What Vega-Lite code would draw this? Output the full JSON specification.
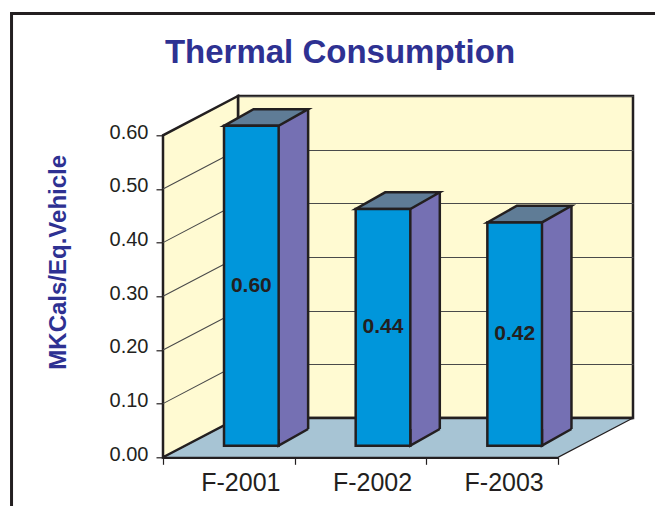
{
  "$schema": "https://vega.github.io/schema/vega-lite/v6.json",
  "width": 395,
  "height": 322,
  "autosize": {"type": "none"},
  "padding": {"left": 238, "top": 96, "right": 22, "bottom": 88},
  "background": "white",
  "title": {
    "text": "Thermal Consumption",
    "font": "Liberation Sans",
    "fontSize": 33,
    "fontWeight": "bold",
    "color": "#2E3192",
    "anchor": "middle",
    "frame": "group",
    "baseline": "alphabetic",
    "offset": -88,
    "dx": -95.5
  },
  "config": {
    "font": "Liberation Sans",
    "view": {"fill": "#FFFAD2", "stroke": "#231F20", "strokeWidth": 2.5}
  },
  "data": {
    "values": [
      {"category": "F-2001", "value": 0.596},
      {"category": "F-2002", "value": 0.441},
      {"category": "F-2003", "value": 0.416}
    ]
  },
  "resolve": {"scale": {"y": "independent"}, "axis": {"y": "independent"}},
  "layer": [
    {
      "data": {"values": [{}]},
      "mark": {"type": "point", "shape": "M-292.3,120 L-292.3,-404.5 L380,-404.5", "size": 4, "filled": false, "stroke": "#231F20", "strokeWidth": 3, "opacity": 1},
      "encoding": {
        "x": {"datum": "F-2001", "type": "nominal", "scale": {"type": "band", "paddingInner": 0, "paddingOuter": 0, "domain": ["F-2001", "F-2002", "F-2003"]},
          "axis": {"orient": "bottom", "offset": 39.3, "position": -75, "title": null, "domain": true, "domainColor": "#231F20", "domainWidth": 2.5, "ticks": true, "tickBand": "extent", "tickSize": 7, "tickColor": "#231F20", "tickWidth": 1.2, "labelAngle": 0, "labelFont": "Liberation Sans", "labelFontSize": 25, "labelColor": "#231F20", "labelPadding": 6, "labelOffset": 11.5, "grid": false}},
        "y": {"datum": 0, "type": "quantitative", "axis": null, "scale": {"domain": [0, 0.6], "nice": false}}
      }
    },
    {
      "data": {"values": [{}]},
      "mark": {"type": "point", "shape": "M-65.83,0 L329.17,0 L254.17,39.3 L-140.83,39.3 Z", "size": 4, "filled": true, "fill": "#A7C4D4", "stroke": "#231F20", "strokeWidth": 1.2, "opacity": 1},
      "encoding": {
        "x": {"datum": "F-2001", "type": "nominal", "title": null},
        "y": {"datum": 0, "type": "quantitative", "axis": null, "scale": {"domain": [0, 0.6], "nice": false}}
      }
    },
    {
      "data": {"values": [{}]},
      "mark": {"type": "point", "shape": "M-65.83,0 L329.17,0", "size": 4, "filled": false, "stroke": "#231F20", "strokeWidth": 2.5, "opacity": 1},
      "encoding": {
        "x": {"datum": "F-2001", "type": "nominal", "title": null},
        "y": {"datum": 0, "type": "quantitative", "axis": null, "scale": {"domain": [0, 0.6], "nice": false}}
      }
    },
    {
      "data": {"values": [{}]},
      "mark": {"type": "point", "shape": "M-140.83,39.3 L-140.83,-282.7 L-65.83,-322 L-65.83,0 Z", "size": 4, "filled": true, "fill": "#FFFAD2", "stroke": "#231F20", "strokeWidth": 2.5, "opacity": 1},
      "encoding": {
        "x": {"datum": "F-2001", "type": "nominal", "title": null},
        "y": {"datum": 0, "type": "quantitative", "axis": null, "scale": {"domain": [0, 0.6], "nice": false}}
      }
    },
    {
      "data": {"values": [{}]},
      "mark": {"type": "point", "shape": "M-140.83,-14.37 L-65.83,-53.67 M-140.83,-68.03 L-65.83,-107.33 M-140.83,-121.7 L-65.83,-161 M-140.83,-175.37 L-65.83,-214.67 M-140.83,-229.03 L-65.83,-268.33", "size": 4, "filled": false, "stroke": "#4a4a4a", "strokeWidth": 1.1, "opacity": 1},
      "encoding": {
        "x": {"datum": "F-2001", "type": "nominal", "title": null},
        "y": {"datum": 0, "type": "quantitative", "axis": null, "scale": {"domain": [0, 0.6], "nice": false}}
      }
    },
    {
      "mark": {"type": "bar", "fill": "#7570B3", "strokeWidth": 0, "width": {"band": 0.2605}, "xOffset": -12.85, "x2Offset": -12.85, "yOffset": 11, "y2Offset": 11},
      "encoding": {
        "x": {"field": "category", "type": "nominal", "title": null},
        "y": {
          "field": "value", "type": "quantitative",
          "scale": {"domain": [0, 0.6], "nice": false},
          "axis": {"orient": "right", "values": [0, 0.1, 0.2, 0.3, 0.4, 0.5, 0.6], "labels": false, "ticks": false, "domain": false, "grid": true, "gridColor": "#4a4a4a", "gridWidth": 1.1, "title": null}
        },
        "y2": {"datum": 0}
      }
    },
    {
      "mark": {"type": "rule", "stroke": "#231F20", "strokeWidth": 2.5, "xOffset": 4.3, "yOffset": 11, "y2Offset": 11},
      "encoding": {
        "x": {"field": "category", "type": "nominal", "title": null},
        "y": {"field": "value", "type": "quantitative", "axis": null, "scale": {"domain": [0, 0.6], "nice": false}},
        "y2": {"datum": 0}
      }
    },
    {
      "mark": {"type": "point", "shape": "M-25.2,11 L-25.2,27.7 L4.3,11", "size": 4, "filled": true, "fill": "#7570B3", "stroke": "#231F20", "strokeWidth": 2.5, "opacity": 1},
      "encoding": {
        "x": {"field": "category", "type": "nominal", "title": null},
        "y": {"datum": 0, "type": "quantitative", "axis": null, "scale": {"domain": [0, 0.6], "nice": false}}
      }
    },
    {
      "mark": {"type": "point", "shape": "M-79.8,27.7 L-25.2,27.7 L4.3,11 L-50.3,11 Z", "size": 4, "filled": true, "fill": "#5F7C96", "stroke": "#231F20", "strokeWidth": 2.5, "opacity": 1},
      "encoding": {
        "x": {"field": "category", "type": "nominal", "title": null},
        "y": {"field": "value", "type": "quantitative", "axis": null, "scale": {"domain": [0, 0.6], "nice": false}}
      }
    },
    {
      "mark": {"type": "bar", "fill": "#0096DB", "stroke": "#231F20", "strokeWidth": 2.5, "width": {"band": 0.415}, "xOffset": -52.5, "x2Offset": -52.5, "yOffset": 27.7, "y2Offset": 27.7},
      "encoding": {
        "x": {"field": "category", "type": "nominal", "title": null},
        "y": {
          "field": "value", "type": "quantitative",
          "scale": {"domain": [0, 0.6], "nice": false},
          "axis": {"orient": "left", "offset": 75, "position": 39.3, "values": [0, 0.1, 0.2, 0.3, 0.4, 0.5, 0.6], "format": ".2f", "grid": false, "domain": true, "domainColor": "#231F20", "domainWidth": 2.5, "ticks": true, "tickColor": "#231F20", "tickWidth": 1.2, "tickSize": 7, "labelFont": "Liberation Sans", "labelFontSize": 20, "labelColor": "#231F20", "labelPadding": 8, "labelOffset": -3, "title": "MKCals/Eq.Vehicle", "titleFont": "Liberation Sans", "titleFontSize": 24, "titleFontWeight": "bold", "titleColor": "#2E3192", "titleAngle": -90, "titleX": -105, "titleY": 126.5, "titleAlign": "center", "titleBaseline": "middle"}
        },
        "y2": {"datum": 0}
      }
    },
    {
      "mark": {"type": "text", "font": "Liberation Sans", "fontSize": 21, "fontWeight": "bold", "color": "#231F20", "align": "center", "baseline": "middle", "xOffset": -52.5, "yOffset": 27.7},
      "encoding": {
        "x": {"field": "category", "type": "nominal", "title": null},
        "y": {"field": "value", "type": "quantitative", "axis": null, "scale": {"domain": [0, 1.2], "nice": false}},
        "text": {"field": "value", "type": "quantitative", "format": ".2f"}
      }
    }
  ]
}
